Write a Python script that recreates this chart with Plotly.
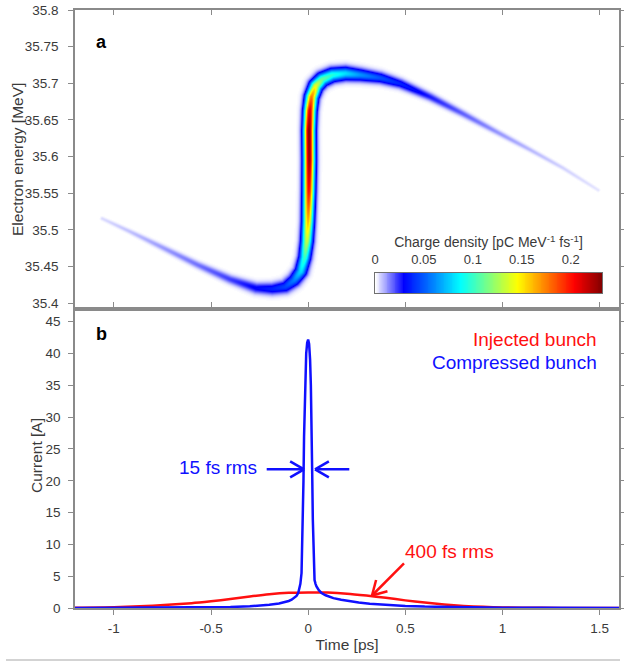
import numpy as np
import plotly.graph_objects as go

# ---------------- data ----------------
# Panel a: ridge of the longitudinal phase space
ridge_t = [-1.062, -0.917, -0.763, -0.572, -0.403, -0.269, -0.187, -0.120, -0.074, -0.040,
           -0.020, -0.009, -0.003, 0.001, 0.003, 0.002, 0.006, 0.015, 0.037, 0.070,
           0.122, 0.189, 0.266, 0.369, 0.472, 0.626, 0.795, 0.970, 1.140, 1.310, 1.490]
ridge_E = [35.516, 35.498, 35.478, 35.453, 35.433, 35.421, 35.420, 35.423, 35.432, 35.444,
           35.463, 35.485, 35.512, 35.553, 35.595, 35.636, 35.663, 35.682, 35.697, 35.706,
           35.712, 35.714, 35.712, 35.708, 35.700, 35.682, 35.659, 35.634, 35.610, 35.585, 35.555]
ridge_density = [0.004, 0.007, 0.011, 0.016, 0.022, 0.030, 0.036, 0.044, 0.058, 0.080,
                 0.100, 0.130, 0.160, 0.200, 0.225, 0.230, 0.210, 0.175, 0.140, 0.110,
                 0.095, 0.080, 0.062, 0.047, 0.036, 0.026, 0.018, 0.012, 0.008, 0.005, 0.003]
ridge_spread = [1.3, 1.6, 2.0, 2.4, 2.9, 3.6, 4.0, 4.2, 4.3, 4.1,
                3.9, 3.8, 3.7, 3.7, 3.7, 3.7, 3.8, 4.0, 4.3, 4.5,
                4.5, 4.4, 4.1, 3.7, 3.2, 2.7, 2.3, 1.9, 1.6, 1.4, 1.2]

# Panel b: current profiles
comp_t = [-1.2, -1.0, -0.8, -0.6, -0.5, -0.4, -0.3, -0.25, -0.2, -0.15, -0.12, -0.1, -0.085,
          -0.07, -0.06, -0.051, -0.045, -0.04, -0.034, -0.03, -0.027, -0.024, -0.021, -0.018,
          -0.014, -0.01, -0.005, 0.0, 0.005, 0.01, 0.014, 0.018, 0.021, 0.024, 0.027, 0.029,
          0.033, 0.038, 0.043, 0.055, 0.069, 0.09, 0.11, 0.13, 0.17, 0.214, 0.26, 0.317,
          0.4, 0.5, 0.6, 0.7, 0.8, 1.0, 1.2, 1.4, 1.6]
comp_I = [0.01, 0.02, 0.03, 0.06, 0.10, 0.16, 0.26, 0.35, 0.5, 0.7, 0.9, 1.1, 1.3,
          1.6, 1.9, 2.35, 3.0, 3.8, 5.5, 10, 14, 20, 27, 32,
          37, 40, 41.7, 42.2, 41.5, 39, 35, 29, 21, 14, 8.5, 5.5,
          4.4, 3.8, 3.4, 2.8, 2.35, 2.0, 1.75, 1.55, 1.3, 1.04, 0.85, 0.67,
          0.48, 0.33, 0.22, 0.15, 0.10, 0.05, 0.03, 0.02, 0.01]
inj_t = [-1.2, -1.0, -0.8, -0.6, -0.5, -0.4, -0.3, -0.2, -0.1, 0.0, 0.1, 0.2, 0.3, 0.4,
         0.5, 0.6, 0.7, 0.8, 0.9, 1.0, 1.2, 1.4, 1.6]
inj_I = [0.05, 0.12, 0.35, 0.75, 1.05, 1.4, 1.8, 2.15, 2.38, 2.45, 2.42, 2.25, 1.95, 1.6,
         1.2, 0.85, 0.55, 0.33, 0.18, 0.09, 0.02, 0.005, 0.0]

x_ticks = [-1, -0.5, 0, 0.5, 1, 1.5]
x_ticklabels = ["-1", "-0.5", "0", "0.5", "1", "1.5"]
e_ticks = [35.4, 35.45, 35.5, 35.55, 35.6, 35.65, 35.7, 35.75, 35.8]
e_ticklabels = ["35.4", "35.45", "35.5", "35.55", "35.6", "35.65", "35.7", "35.75", "35.8"]
i_ticks = [0, 5, 10, 15, 20, 25, 30, 35, 40, 45]
cb_ticks = [0, 0.05, 0.1, 0.15, 0.2]
cb_ticklabels = ["0", "0.05", "0.1", "0.15", "0.2"]

# ---------------- geometry ----------------
W, H = 624, 662
ML, MR, MT, MB = 75, 5, 10, 54
PW, PH = W - ML - MR, H - MT - MB
T_RANGE = [-1.2, 1.6]
E_RANGE = [35.392, 35.8]
I_RANGE = [0, 47]
Z_MAX = 0.232

AX = "#8a8a8a"
TXT = "#3a3a3a"
FONT = "Liberation Sans, Arial, sans-serif"
BLUE = "#1010ff"
RED = "#ff1010"


def px(x, y):
    """figure pixel -> paper coordinates"""
    return (x - ML) / PW, (H - MB - y) / PH


# ---------------- phase-space density image ----------------
top_h = PH / 2
sx = PW / (T_RANGE[1] - T_RANGE[0])
sy = top_h / (E_RANGE[1] - E_RANGE[0])
t_grid = np.linspace(T_RANGE[0], T_RANGE[1], PW + 1)
E_grid = np.linspace(E_RANGE[0], E_RANGE[1], int(top_h) + 1)
TT, EE = np.meshgrid(t_grid, E_grid)
X = (TT - T_RANGE[0]) * sx
Y = (EE - E_RANGE[0]) * sy
rx = (np.array(ridge_t) - T_RANGE[0]) * sx
ry = (np.array(ridge_E) - E_RANGE[0]) * sy
rho = np.array(ridge_density)
sig = np.array(ridge_spread)
Z = np.zeros_like(X)
for i in range(len(rx) - 1):
    ax, ay = rx[i], ry[i]
    bx, by = rx[i + 1] - ax, ry[i + 1] - ay
    L2 = bx * bx + by * by
    u = np.clip(((X - ax) * bx + (Y - ay) * by) / L2, 0, 1)
    dx = X - (ax + u * bx)
    dy = Y - (ay + u * by)
    s = sig[i] + u * (sig[i + 1] - sig[i])
    r = rho[i] + u * (rho[i + 1] - rho[i])
    Z = np.maximum(Z, r * np.exp(-(dx * dx + dy * dy) / (2 * s * s)))
Z[Z < 3e-4] = 0
Z = np.round(Z, 4)

colorscale = [[0.0, "rgb(255,255,255)"], [0.125, "rgb(0,0,255)"], [0.375, "rgb(0,255,255)"],
              [0.625, "rgb(255,255,0)"], [0.875, "rgb(255,0,0)"], [1.0, "rgb(128,0,0)"]]

# colour bar placed as its own small axis pair (pixels of its box in the figure)
cb_x0, cb_y0 = px(375, 293)
cb_x1, cb_y1 = px(602, 273)
cb_ramp = np.linspace(0, Z_MAX, 256)

fig = go.Figure()
fig.add_trace(go.Heatmap(
    x=t_grid, y=E_grid, z=Z, zmin=0, zmax=Z_MAX, colorscale=colorscale, zsmooth="best",
    hoverinfo="skip", xaxis="x", yaxis="y", showscale=False))
fig.add_trace(go.Heatmap(
    x=cb_ramp, y=[0, 1], z=[cb_ramp, cb_ramp], zmin=0, zmax=Z_MAX, colorscale=colorscale,
    zsmooth="best", hoverinfo="skip", xaxis="x3", yaxis="y3", showscale=False))

fig.add_trace(go.Scatter(x=inj_t, y=inj_I, mode="lines",
                         line=dict(color=RED, width=2.5, shape="spline", smoothing=0.6),
                         xaxis="x2", yaxis="y2", showlegend=False, hoverinfo="skip"))
fig.add_trace(go.Scatter(x=comp_t, y=comp_I, mode="lines", line=dict(color=BLUE, width=2.5),
                         xaxis="x2", yaxis="y2", showlegend=False, hoverinfo="skip"))

tickfont = dict(family=FONT, size=13.5, color=TXT)
titlefont = dict(family=FONT, size=15.5, color=TXT)
axis_common = dict(showgrid=False, zeroline=False, showline=True, linecolor=AX, linewidth=1.5,
                   mirror="ticks", tickcolor=AX, ticklen=5, tickwidth=1, automargin=False,
                   tickfont=tickfont)

annotations = []


def ann(text, x, y, color=TXT, size=14, xanchor="center", bold=False, angle=0):
    xp, yp = px(x, y)
    annotations.append(dict(text=("<b>%s</b>" % text) if bold else text, x=xp, y=yp,
                            xref="paper", yref="paper", xanchor=xanchor, yanchor="middle",
                            showarrow=False, borderpad=0, textangle=angle,
                            font=dict(family=FONT, size=size, color=color)))


ann("Electron energy [MeV]", 17, 160, size=15.5, angle=-90)
ann("Current [A]", 37, 456, size=15.5, angle=-90)
ann("a", 101, 42, color="black", size=18, bold=True)
ann("b", 101, 334, color="black", size=18, bold=True)
ann("Injected bunch", 598, 339, color=RED, size=19, xanchor="right")
ann("Compressed bunch", 598, 362, color=BLUE, size=19, xanchor="right")
ann("15 fs rms", 218, 468, color=BLUE, size=19)
ann("400 fs rms", 449, 551, color=RED, size=19)

shapes = []


def seg(x0, y0, x1, y1, color, width=2.5):
    a = px(x0, y0)
    b = px(x1, y1)
    shapes.append(dict(type="line", xref="paper", yref="paper", x0=a[0], y0=a[1], x1=b[0], y1=b[1],
                       line=dict(color=color, width=width)))


def v_arrow(x0, y0, x1, y1, color, head=16, ang=30):
    seg(x0, y0, x1, y1, color)
    d = np.array([x0 - x1, y0 - y1], float)
    d /= np.hypot(*d)
    for sgn in (1, -1):
        a = np.radians(sgn * ang)
        r = np.array([d[0] * np.cos(a) - d[1] * np.sin(a), d[0] * np.sin(a) + d[1] * np.cos(a)])
        seg(x1, y1, x1 + head * r[0], y1 + head * r[1], color)


v_arrow(266.7, 469.3, 304, 469.3, BLUE)
v_arrow(349.3, 469.3, 315, 469.3, BLUE)
v_arrow(404, 563.3, 372, 595.5, RED)

# page border line at the bottom
a0 = px(6, 660)
a1 = px(620, 660)
shapes.append(dict(type="line", xref="paper", yref="paper", x0=a0[0], y0=a0[1], x1=a1[0], y1=a1[1],
                   line=dict(color="#c4c4c4", width=1.5)))

fig.update_layout(
    width=W, height=H, margin=dict(l=ML, r=MR, t=MT, b=MB, autoexpand=False),
    paper_bgcolor="white", plot_bgcolor="white", showlegend=False,
    font=dict(family=FONT, size=14, color=TXT),
    xaxis=dict(domain=[0, 1], anchor="y", range=T_RANGE, tickvals=x_ticks, showticklabels=False,
               ticks="inside", **axis_common),
    yaxis=dict(domain=[0.5, 1], anchor="x", range=E_RANGE, tickvals=e_ticks, ticktext=e_ticklabels,
               ticks="outside", ticklabelstandoff=7, **axis_common),
    xaxis2=dict(domain=[0, 1], anchor="y2", range=T_RANGE, tickvals=x_ticks, ticktext=x_ticklabels,
                ticks="outside", ticklabelstandoff=2,
                title=dict(text="Time [ps]", font=titlefont, standoff=4), **axis_common),
    yaxis2=dict(domain=[0, 0.5], anchor="x2", range=I_RANGE, tickvals=i_ticks,
                ticks="outside", ticklabelstandoff=5, **axis_common),
    xaxis3=dict(domain=[cb_x0, cb_x1], anchor="y3", range=[0, Z_MAX], side="top",
                tickvals=cb_ticks, ticktext=cb_ticklabels, ticks="", showgrid=False, zeroline=False,
                showline=True, mirror=True, linecolor="#707070", linewidth=1, automargin=False,
                tickfont=dict(family=FONT, size=13, color=TXT), ticklabelstandoff=3,
                title=dict(text="Charge density [pC MeV<sup>-1</sup> fs<sup>-1</sup>]",
                           font=dict(family=FONT, size=14, color=TXT), standoff=0)),
    yaxis3=dict(domain=[cb_y0, cb_y1], anchor="x3", range=[0, 1], showticklabels=False, ticks="",
                showgrid=False, zeroline=False, showline=True, mirror=True, linecolor="#707070",
                linewidth=1, automargin=False),
    annotations=annotations, shapes=shapes,
)

fig.write_html("out.html")
